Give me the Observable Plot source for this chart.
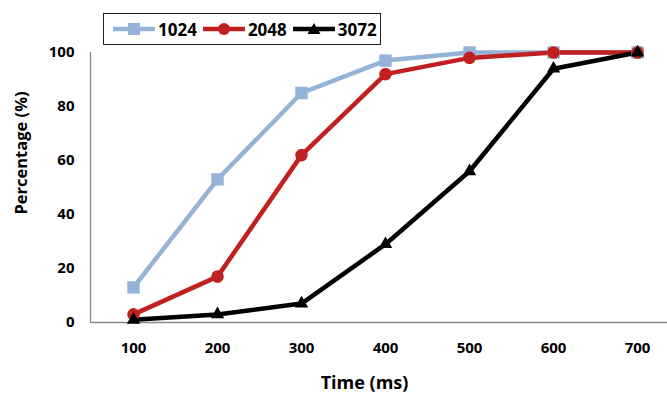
<!DOCTYPE html>
<html>
<head>
<meta charset="utf-8">
<script src="https://cdn.jsdelivr.net/npm/d3@7"></script>
<script src="https://cdn.jsdelivr.net/npm/@observablehq/plot@0.6"></script>
<style>
  body { margin: 0; background: #fff; font-family: "Open Sans", sans-serif; }
  #wrap { position: relative; width: 667px; height: 396px; }
  #legend { position: absolute; left: 103px; top: 13px; width: 278px; height: 32px;
    border: 1px solid #222; background: #fff; display: flex; align-items: center;
    font: bold 17px "Open Sans", sans-serif; box-sizing: border-box; padding-left: 9px; }
  #legend .item { display: flex; align-items: center; margin-right: 6px; }
  #legend svg { margin-right: 3px; }
</style>
</head>
<body>
<div id="wrap"><div id="legend"></div></div>
<script>
const times = [100, 200, 300, 400, 500, 600, 700];
const seriesNames = ["1024", "2048", "3072"];
const s1024 = [13, 53, 85, 97, 100, 100, 100];
const s2048 = [3, 17, 62, 92, 98, 100, 100];
const s3072 = [1, 3, 7, 29, 56, 94, 100];
const yTicks = [0, 20, 40, 60, 80, 100];
const colors = ["#95b3d7", "#c0201f", "#000000"];
const symbols = ["square", "circle", "triangle"];
const symbolR = [7, 6.3, 5];
const xLabel = "Time (ms)";
const yLabel = "Percentage (%)";

const data = [];
[s1024, s2048, s3072].forEach((vals, i) => {
  vals.forEach((v, j) => data.push({series: seriesNames[i], time: times[j], value: v}));
});

const xDomain = [48.8, 735.7];

const chart = Plot.plot({
  width: 667,
  height: 396,
  marginLeft: 90,
  marginRight: 0,
  marginTop: 52,
  marginBottom: 74,
  style: {fontFamily: "'Open Sans', sans-serif", fontWeight: "bold", fontSize: "15px", color: "#000"},
  x: {domain: xDomain, ticks: times, tickFormat: d => String(d), tickSize: 0, tickPadding: 20, label: null},
  y: {domain: [0, 100], ticks: yTicks, tickSize: 0, tickPadding: 16, label: null},
  color: {domain: seriesNames, range: colors},
  symbol: {domain: seriesNames, range: symbols},
  marks: [
    Plot.ruleX([xDomain[0]], {stroke: "#8a8a8a", strokeWidth: 1.3, y1: 0, y2: 100}),
    Plot.ruleY([0], {stroke: "#8a8a8a", strokeWidth: 1.3, x1: xDomain[0], x2: xDomain[1]}),
    Plot.line(data, {x: "time", y: "value", z: "series", stroke: "series", strokeWidth: 4.5}),
    ...seriesNames.map((name, i) =>
      Plot.dot(data.filter(d => d.series === name),
        {x: "time", y: "value", fill: "series", symbol: "series", r: symbolR[i], stroke: "none"}))
  ]
});

const svg = d3.select(chart);
svg.append("text")
  .attr("x", 364.5).attr("y", 389)
  .attr("text-anchor", "middle")
  .style("font-size", "18px").style("font-weight", "bold")
  .text(xLabel);
svg.append("text")
  .attr("transform", "translate(27,153) rotate(-90)")
  .attr("text-anchor", "middle")
  .style("font-size", "16.5px").style("font-weight", "bold")
  .text(yLabel);

document.getElementById("wrap").appendChild(chart);

const legend = document.getElementById("legend");
seriesNames.forEach((name, i) => {
  const item = document.createElement("div");
  item.className = "item";
  const sym = symbols[i];
  let marker;
  if (sym === "square") marker = `<rect x="15" y="4" width="12" height="12" fill="${colors[i]}"/>`;
  else if (sym === "circle") marker = `<circle cx="21" cy="10" r="6" fill="${colors[i]}"/>`;
  else marker = `<path d="M21,4 L27.5,15 L14.5,15 Z" fill="${colors[i]}"/>`;
  item.innerHTML = `<svg width="42" height="20"><line x1="0" y1="10" x2="42" y2="10" stroke="${colors[i]}" stroke-width="4.5"/>${marker}</svg><span>${name}</span>`;
  legend.appendChild(item);
});
</script>
</body>
</html>
